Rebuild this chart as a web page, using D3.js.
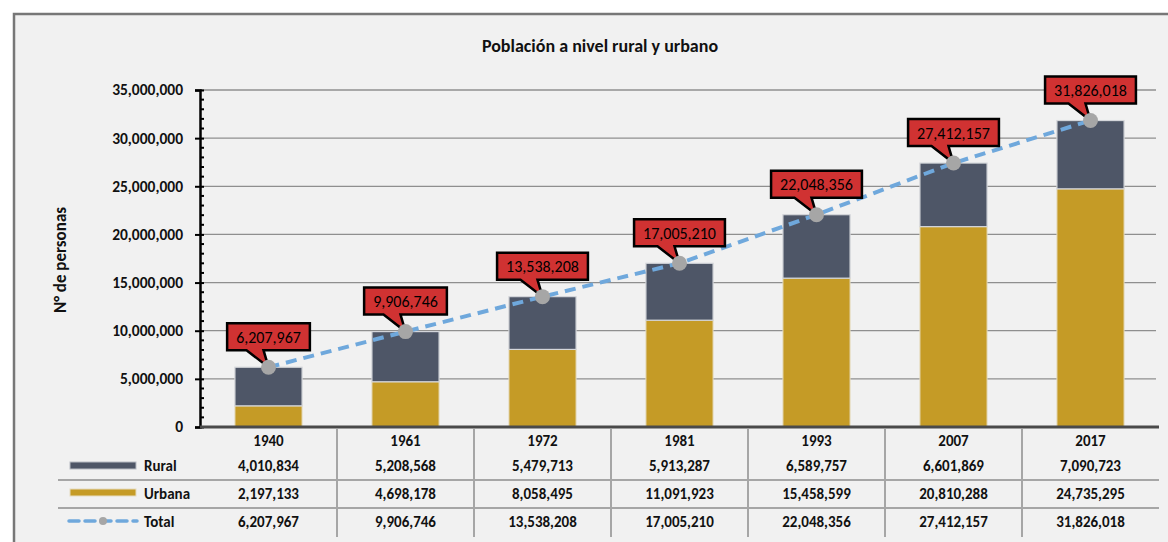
<!DOCTYPE html>
<html>
<head>
<meta charset="utf-8">
<script src="https://cdn.jsdelivr.net/npm/d3@7"></script>
<style>
  body { margin: 0; background: #fff; }
  text { font-family: Carlito, "Open Sans", sans-serif; }
</style>
</head>
<body>
<div id="chart"></div>
<script>
var years  = ["1940", "1961", "1972", "1981", "1993", "2007", "2017"];
var rural  = [4010834, 5208568, 5479713, 5913287, 6589757, 6601869, 7090723];
var urbana = [2197133, 4698178, 8058495, 11091923, 15458599, 20810288, 24735295];
var total  = [6207967, 9906746, 13538208, 17005210, 22048356, 27412157, 31826018];
var yTicks = [0, 5000000, 10000000, 15000000, 20000000, 25000000, 30000000, 35000000];

var W = 1168, H = 542;
var plotL = 200, plotR = 1159, plotT = 90, plotB = 427;
var cRural = "#4e5667", cUrb = "#c59b26", cLine = "#6fa8dc", cMark = "#a6a6a6";
var fmt = d3.format(",");

var svg = d3.select("#chart").append("svg").attr("width", W).attr("height", H);

// frame
svg.append("rect").attr("x", 14).attr("y", 14).attr("width", W + 20).attr("height", H + 20)
    .attr("fill", "#f1f1f1").attr("stroke", "#777").attr("stroke-width", 2.5);

svg.append("text").attr("x", 600).attr("y", 52).attr("text-anchor", "middle")
    .attr("font-size", 18).attr("font-weight", "bold").attr("fill", "#111")
    .text("Población a nivel rural y urbano");

var x = d3.scaleBand().domain(years).range([plotL, plotR]).padding(0);
var y = d3.scaleLinear().domain([0, 35000000]).range([plotB, plotT]);
var bw = x.bandwidth() * 0.49;

// gridlines
svg.append("g").selectAll("line").data(yTicks.slice(1)).enter().append("line")
    .attr("x1", plotL).attr("x2", 1156)
    .attr("y1", d => y(d)).attr("y2", d => y(d))
    .attr("stroke", "#8f8f8f").attr("stroke-width", 1.3);

// y axis
var yAxis = svg.append("g").attr("transform", "translate(" + plotL + ",0)")
    .call(d3.axisLeft(y).tickValues(yTicks).tickFormat(d => fmt(d)).tickSize(5).tickPadding(12));
yAxis.select(".domain").attr("stroke", "#000").attr("stroke-width", 2.5);
yAxis.selectAll(".tick line").attr("stroke", "#000").attr("stroke-width", 2).attr("x2", -5).attr("x1", 4);
yAxis.selectAll(".tick text").attr("font-size", 15.5).attr("font-weight", "bold").attr("fill", "#111")
    .style("font-family", "Carlito, 'Open Sans', sans-serif");
var minor = d3.range(0, 35000001, 1000000).filter(d => d % 5000000 !== 0);
svg.append("g").selectAll("line").data(minor).enter().append("line")
    .attr("x1", plotL).attr("x2", plotL + 4).attr("y1", d => y(d)).attr("y2", d => y(d))
    .attr("stroke", "#000").attr("stroke-width", 2);

svg.append("text").attr("transform", "translate(66,260) rotate(-90)")
    .attr("text-anchor", "middle").attr("font-size", 17).attr("font-weight", "bold").attr("fill", "#111")
    .text("N° de personas");

// bars
var bars = svg.append("g");
years.forEach(function(yr, i) {
  var bx = x(yr) + (x.bandwidth() - bw) / 2;
  bars.append("rect").attr("x", bx).attr("width", bw)
      .attr("y", y(urbana[i])).attr("height", y(0) - y(urbana[i]))
      .attr("fill", cUrb).attr("stroke", "#e6dcc0").attr("stroke-width", 1);
  bars.append("rect").attr("x", bx).attr("width", bw)
      .attr("y", y(total[i])).attr("height", y(urbana[i]) - y(total[i]))
      .attr("fill", cRural).attr("stroke", "#d4d6da").attr("stroke-width", 1.2);
});

// x axis line
svg.append("line").attr("x1", plotL).attr("x2", plotR).attr("y1", plotB).attr("y2", plotB)
    .attr("stroke", "#4a4a4a").attr("stroke-width", 3);

// total line
var cx = d => x(d) + x.bandwidth() / 2;
var line = d3.line().x((d, i) => cx(years[i])).y(d => y(d));
svg.append("path").datum(total).attr("d", line).attr("fill", "none")
    .attr("stroke", cLine).attr("stroke-width", 4).attr("stroke-dasharray", "11,7");

// callouts
var callouts = svg.append("g");
total.forEach(function(v, i) {
  var px = cx(years[i]), py = y(v);
  var g = callouts.append("g");
  var path = g.append("path");
  var t = g.append("text").attr("x", px).attr("y", py - 24.5).attr("text-anchor", "middle")
      .attr("font-size", 16).attr("fill", "#000").text(fmt(v));
  var tw = t.node().getComputedTextLength();
  var x0 = px - tw / 2 - 9, x1 = px + tw / 2 + 9, yb = py - 17, yt = yb - 27;
  path.attr("d", "M" + x0 + "," + yt + "H" + x1 + "V" + yb + "H" + (px - 5) +
      "L" + px + "," + py + "L" + (px - 22) + "," + yb + "H" + x0 + "Z")
      .attr("fill", "#d03232").attr("stroke", "#000").attr("stroke-width", 2.5)
      .attr("stroke-linejoin", "miter");
});

svg.append("g").selectAll("circle").data(total).enter().append("circle")
    .attr("cx", (d, i) => cx(years[i])).attr("cy", d => y(d)).attr("r", 7.5)
    .attr("fill", cMark);

// data table
var rowsY = [446, 471, 499, 527];
var tbl = svg.append("g");
[480, 508].forEach(function(ly) {
  tbl.append("line").attr("x1", 58).attr("x2", plotR).attr("y1", ly).attr("y2", ly)
      .attr("stroke", "#a6a6a6").attr("stroke-width", 2);
});
years.slice(1).forEach(function(yr) {
  tbl.append("line").attr("x1", x(yr)).attr("x2", x(yr)).attr("y1", 429).attr("y2", 537)
      .attr("stroke", "#a6a6a6").attr("stroke-width", 2);
});
var cellText = function(tx, ty, s, anchor) {
  tbl.append("text").attr("x", tx).attr("y", ty).attr("text-anchor", anchor || "middle")
      .attr("font-size", 15).attr("font-weight", "bold").attr("fill", "#111").text(s);
};
years.forEach(function(yr, i) {
  cellText(cx(yr), rowsY[0], yr);
  cellText(cx(yr), rowsY[1], fmt(rural[i]));
  cellText(cx(yr), rowsY[2], fmt(urbana[i]));
  cellText(cx(yr), rowsY[3], fmt(total[i]));
});

// legend keys
tbl.append("rect").attr("x", 70).attr("y", 462).attr("width", 66).attr("height", 7)
    .attr("fill", cRural).attr("stroke", "#b8bcc4").attr("stroke-width", 1);
tbl.append("rect").attr("x", 70).attr("y", 489).attr("width", 66).attr("height", 7)
    .attr("fill", cUrb).attr("stroke", "#e6dcc0").attr("stroke-width", 1);
tbl.append("line").attr("x1", 69).attr("x2", 137).attr("y1", 521).attr("y2", 521)
    .attr("stroke", cLine).attr("stroke-width", 3.5).attr("stroke-dasharray", "10,6")
    .attr("stroke-linecap", "round");
tbl.append("circle").attr("cx", 103).attr("cy", 521).attr("r", 4).attr("fill", cMark);
cellText(144, rowsY[1], "Rural", "start");
cellText(144, rowsY[2], "Urbana", "start");
cellText(144, rowsY[3], "Total", "start");
</script>
</body>
</html>
